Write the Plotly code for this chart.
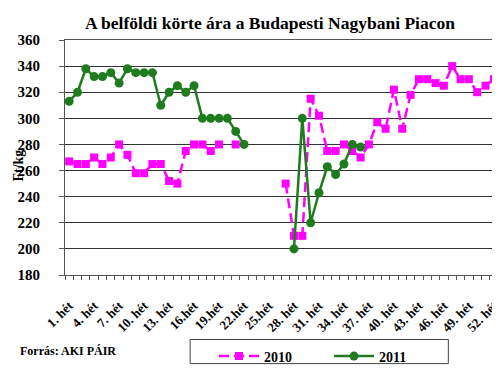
import plotly.graph_objects as go

weeks = list(range(1, 53))
tick_weeks = list(range(1, 53, 3))
tick_labels = ["1. hét", "4. hét", "7. hét", "10. hét", "13. hét", "16.hét", "19.hét",
               "22.hét", "25.hét", "28. hét", "31. hét", "34. hét", "37. hét", "40. hét",
               "43. hét", "46. hét", "49. hét", "52. hét"]

N = None
price_2010 = [267, 265, 265, 270, 265, 270, 280, 272, 258, 258,
              265, 265, 252, 250, 275, 280, 280, 275, 280, N,
              280, N, N, N, N, N, 250, 210, 210, 315,
              302, 275, 275, 280, 275, 270, 280, 297, 292, 322,
              292, 318, 330, 330, 327, 325, 340, 330, 330, 320,
              325, 330]
price_2011 = [313, 320, 338, 332, 332, 335, 327, 338, 335, 335,
              335, 310, 320, 325, 320, 325, 300, 300, 300, 300,
              290, 280, N, N, N, N, N, 200, 300, 220,
              243, 263, 257, 265, 280, 278, N, N, N, N,
              N, N, N, N, N, N, N, N, N, N,
              N, N]

FONT = "Liberation Serif"
L, R, T, B = 57, 7, 32, 95
PW, PH = 500 - L - R, 371 - T - B

fig = go.Figure()
fig.add_trace(go.Scatter(
    x=weeks, y=price_2010, name="2010", mode="lines+markers",
    line=dict(color="#FF00FF", width=2.5, dash="10px,5px"),
    marker=dict(symbol="square", size=8, color="#FF00FF"),
    connectgaps=False,
))
fig.add_trace(go.Scatter(
    x=weeks, y=price_2011, name="2011", mode="lines+markers",
    line=dict(color="#1E7B1E", width=2.5),
    marker=dict(symbol="circle", size=9, color="#1E7B1E"),
    connectgaps=False,
))

fig.update_layout(
    width=500, height=371,
    margin=dict(l=L, r=R, t=T, b=B),
    paper_bgcolor="white", plot_bgcolor="white",
    font=dict(family=FONT, color="black"),
    title=dict(text="A belföldi körte ára a Budapesti Nagybani Piacon",
               x=262 / 500, xanchor="center", y=1 - 15 / 371, yanchor="middle",
               font=dict(family=FONT, size=17.5, weight="bold", color="black")),
    showlegend=True,
    legend=dict(orientation="h", x=(207 - L) / PW, xanchor="left",
                y=-(344 - (371 - B)) / PH, yanchor="top",
                borderwidth=0, bgcolor="rgba(0,0,0,0)",
                entrywidth=60, entrywidthmode="pixels",
                font=dict(family=FONT, size=14, weight="bold", color="black"),
                itemwidth=40),
    shapes=[dict(type="rect", xref="paper", yref="paper",
                 x0=(183 - L) / PW, x1=(443 - L) / PW,
                 y0=-(343 - (371 - B)) / PH, y1=-(368 - (371 - B)) / PH,
                 line=dict(color="#444", width=1), fillcolor="rgba(0,0,0,0)")],
    xaxis=dict(range=[0.5, 52.5], tickmode="array", tickvals=tick_weeks,
               ticktext=tick_labels, tickangle=-45, ticks="",
               ticklabelstandoff=17,
               tickfont=dict(family=FONT, size=13, weight="bold", color="black"),
               showgrid=False, zeroline=False,
               showline=True, linecolor="#555", linewidth=1, mirror=True,
               minor=dict(ticks="outside", tick0=0.5, dtick=1, ticklen=4,
                          tickcolor="#555", showgrid=False)),
    yaxis=dict(range=[180, 360], dtick=20, tick0=180,
               tickfont=dict(family=FONT, size=15, weight="bold", color="black"),
               ticks="outside", ticklen=5, tickcolor="#555", ticklabelstandoff=16,
               showgrid=True, gridcolor="#333", gridwidth=1, zeroline=False,
               showline=True, linecolor="#555", linewidth=1, mirror=True),
    annotations=[
        dict(text="Ft/kg", textangle=-90, x=-(L - 10) / PW, xref="paper", xanchor="center",
             y=1 - (162 - T) / PH, yref="paper", yanchor="middle",
             showarrow=False, font=dict(family=FONT, size=14, weight="bold")),
        dict(text="Forrás: AKI PÁIR", x=-(L - 10) / PW, xref="paper", xanchor="left",
             y=-(355 - (371 - B)) / PH, yref="paper", yanchor="middle", showarrow=False,
             font=dict(family=FONT, size=12, weight="bold")),
    ],
)

fig.write_html("out.html")
